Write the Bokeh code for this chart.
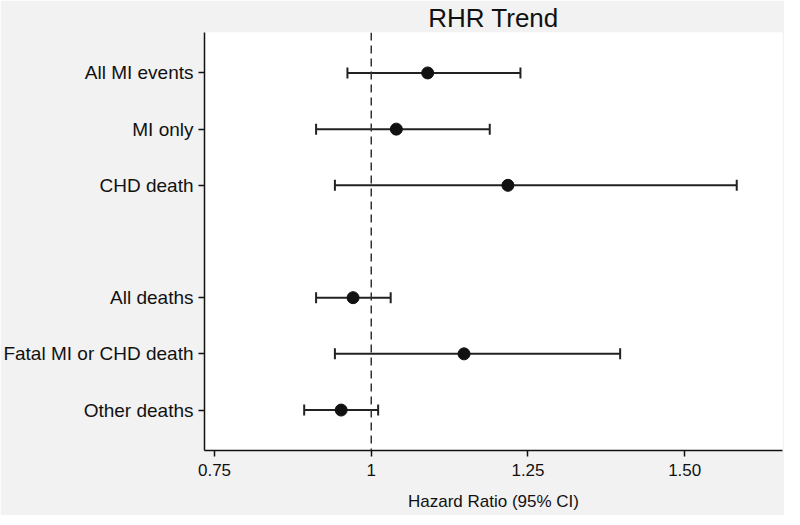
from bokeh.plotting import figure
from bokeh.models import ColumnDataSource, Whisker, TeeHead, Span, FixedTicker, Range1d
from bokeh.embed import file_html
from bokeh.resources import INLINE

# data
categories = ["All MI events", "MI only", "CHD death", None,
              "All deaths", "Fatal MI or CHD death", "Other deaths"]
hr = [1.09, 1.04, 1.218, None, 0.971, 1.148, 0.952]
lo = [0.962, 0.912, 0.942, None, 0.912, 0.942, 0.893]
hi = [1.238, 1.189, 1.583, None, 1.031, 1.397, 1.011]
x_ticks = [0.75, 1.0, 1.25, 1.5]
x_tick_labels = ["0.75", "1", "1.25", "1.50"]

pos = [i + 1 for i, c in enumerate(categories) if c is not None]
src = ColumnDataSource(dict(
    y=pos,
    hr=[hr[i - 1] for i in pos],
    lo=[lo[i - 1] for i in pos],
    hi=[hi[i - 1] for i in pos],
))

FONT = "Liberation Sans"
BG = "#f2f2f2"

p = figure(width=784, height=515, output_backend="svg", toolbar_location=None,
           x_range=Range1d(0.734, 1.656), y_range=Range1d(7.72, 0.28),
           title="RHR Trend", min_border_left=203, min_border_right=2,
           min_border_top=28, min_border_bottom=65)
p.background_fill_color = "white"
p.border_fill_color = BG
p.outline_line_color = None
p.grid.visible = False

p.title.align = "center"
p.title.text_font = FONT
p.title.text_font_size = "26px"
p.title.text_font_style = "normal"
p.title.text_color = "#111111"
p.title.standoff = 0
p.title.offset = 0

p.add_layout(Span(location=1.0, dimension="height", line_color="#333333",
                  line_width=1.5, line_dash="8 5"))

w = Whisker(base="y", lower="lo", upper="hi", dimension="width", source=src,
            line_color="#222222", line_width=2,
            upper_head=TeeHead(size=11, line_color="#222222", line_width=2),
            lower_head=TeeHead(size=11, line_color="#222222", line_width=2))
p.add_layout(w)
p.scatter("hr", "y", source=src, size=12, color="#111111")

p.xaxis.ticker = FixedTicker(ticks=x_ticks)
p.xaxis.major_label_overrides = {t: l for t, l in zip(x_ticks, x_tick_labels)}
p.xaxis.axis_label = "Hazard Ratio (95% CI)"
p.xaxis.minor_tick_line_color = None

p.yaxis.ticker = FixedTicker(ticks=pos)
p.yaxis.major_label_overrides = {i: categories[i - 1] for i in pos}
p.yaxis.minor_tick_line_color = None

for ax in (p.xaxis, p.yaxis):
    ax.axis_line_color = "#111111"
    ax.axis_line_width = 1.5
    ax.major_tick_line_color = "#111111"
    ax.major_tick_line_width = 1.5
    ax.major_tick_out = 6
    ax.major_tick_in = 0
    ax.major_label_text_font = FONT
    ax.major_label_text_color = "#111111"
    ax.axis_label_text_font = FONT
    ax.axis_label_text_font_size = "17px"
    ax.axis_label_text_font_style = "normal"
    ax.axis_label_text_color = "#111111"
p.xaxis.major_label_text_font_size = "17px"
p.yaxis.major_label_text_font_size = "19px"
p.xaxis.major_label_standoff = 7
p.xaxis.axis_label_standoff = 13
p.yaxis.major_label_standoff = 5

open("out.html", "w").write(file_html(p, INLINE))
